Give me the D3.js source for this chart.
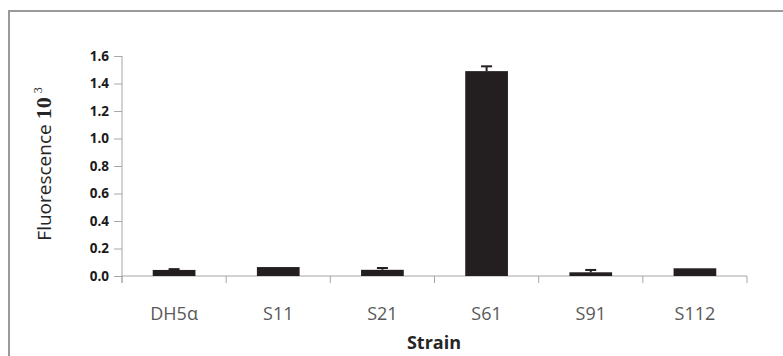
<!DOCTYPE html>
<html>
<head>
<meta charset="utf-8">
<script src="https://cdn.jsdelivr.net/npm/d3@7"></script>
<style>
	body { margin: 0; background: #fff; }
	svg { display: block; }
</style>
</head>
<body>
<svg></svg>
<script>
'use strict'

const strains = ['DH5α', 'S11', 'S21', 'S61', 'S91', 'S112']
const fluorescence = [0.044, 0.065, 0.045, 1.49, 0.027, 0.056]
const errors = [0.006, 0, 0.013, 0.035, 0.017, 0]
const yTicks = [0, 0.2, 0.4, 0.6, 0.8, 1.0, 1.2, 1.4, 1.6]

let width = 783,
	height = 356

let svg = d3.select('svg')
	.attr('width', width)
	.attr('height', height)

// outer frame (top + left only visible)
svg.append('path')
	.attr('d', 'M9,' + (height + 5) + 'V11H' + (width + 5))
	.attr('fill', 'none')
	.attr('stroke', '#9a9a9a')
	.attr('stroke-width', 2)

let x = d3.scaleBand()
	.domain(strains)
	.range([122, 747])
	.paddingInner(0.59)
	.paddingOuter(0.295)

let y = d3.scaleLinear()
	.domain([0, 1.6])
	.range([276, 56])

let axisColor = '#a6a6a6'

// y axis
let yAxis = svg.append('g')
	.attr('transform', 'translate(122,0)')
	.call(d3.axisLeft(y).tickValues(yTicks).tickSize(8).tickPadding(5).tickFormat(d3.format('.1f')))
yAxis.select('.domain').remove()
yAxis.selectAll('line').attr('stroke', axisColor)
yAxis.selectAll('text')
	.attr('fill', '#1a1a1a')
	.style('font-family', '"Open Sans", sans-serif')
	.style('font-size', '13.5px')
	.style('font-weight', 'bold')
yAxis.append('line')
	.attr('x1', 0).attr('x2', 0)
	.attr('y1', y(1.6)).attr('y2', 283)
	.attr('stroke', axisColor)

// x axis baseline and category boundary ticks
let step = x.step()
let bounds = d3.range(strains.length + 1).map(function(i) {
	return x.range()[0] + i * step
})
svg.append('line')
	.attr('x1', x.range()[0]).attr('x2', x.range()[1])
	.attr('y1', y(0)).attr('y2', y(0))
	.attr('stroke', axisColor)
svg.append('g')
	.selectAll('line')
	.data(bounds)
	.enter().append('line')
	.attr('x1', function(d) { return d })
	.attr('x2', function(d) { return d })
	.attr('y1', y(0))
	.attr('y2', 283)
	.attr('stroke', axisColor)

svg.append('g')
	.selectAll('text')
	.data(strains)
	.enter().append('text')
	.attr('x', function(d) { return x(d) + x.bandwidth() / 2 })
	.attr('y', 320)
	.attr('text-anchor', 'middle')
	.attr('fill', '#595959')
	.style('font-family', '"Open Sans", sans-serif')
	.style('font-size', '18px')
	.text(function(d) { return d })

// bars
svg.append('g')
	.selectAll('rect')
	.data(strains)
	.enter().append('rect')
	.attr('x', function(d) { return x(d) })
	.attr('width', x.bandwidth())
	.attr('y', function(d, i) { return y(fluorescence[i]) })
	.attr('height', function(d, i) { return y(0) - y(fluorescence[i]) })
	.attr('fill', '#231f20')

// error bars
let err = svg.append('g')
	.selectAll('g')
	.data(strains.filter(function(d, i) { return errors[i] > 0 }))
	.enter().append('g')
	.attr('stroke', '#231f20')
err.append('line')
	.attr('x1', function(d) { return x(d) + x.bandwidth() / 2 })
	.attr('x2', function(d) { return x(d) + x.bandwidth() / 2 })
	.attr('y1', function(d) { return y(fluorescence[strains.indexOf(d)]) })
	.attr('y2', function(d) { let i = strains.indexOf(d); return y(fluorescence[i] + errors[i]) })
	.attr('stroke-width', 2)
err.append('line')
	.attr('x1', function(d) { return x(d) + x.bandwidth() / 2 - 5.5 })
	.attr('x2', function(d) { return x(d) + x.bandwidth() / 2 + 5.5 })
	.attr('y1', function(d) { let i = strains.indexOf(d); return y(fluorescence[i] + errors[i]) })
	.attr('y2', function(d) { let i = strains.indexOf(d); return y(fluorescence[i] + errors[i]) })
	.attr('stroke-width', 2)

// axis titles
svg.append('text')
	.attr('x', 434)
	.attr('y', 349)
	.attr('text-anchor', 'middle')
	.attr('fill', '#262626')
	.style('font-family', '"Open Sans", sans-serif')
	.style('font-size', '18px')
	.style('font-weight', 'bold')
	.text('Strain')

let yTitle = svg.append('text')
	.attr('transform', 'translate(51,164) rotate(-90)')
	.attr('text-anchor', 'middle')
	.attr('fill', '#262626')
	.style('font-family', '"Open Sans", sans-serif')
	.style('font-size', '19px')
yTitle.append('tspan').text('Fluorescence ')
yTitle.append('tspan')
	.style('font-family', '"Liberation Serif", serif')
	.style('font-weight', 'bold')
	.style('font-size', '22px')
	.text('10')
yTitle.append('tspan')
	.style('font-family', '"Liberation Serif", serif')
	.style('font-size', '12px')
	.attr('dx', 4)
	.attr('dy', -9)
	.text('3')
</script>
</body>
</html>
